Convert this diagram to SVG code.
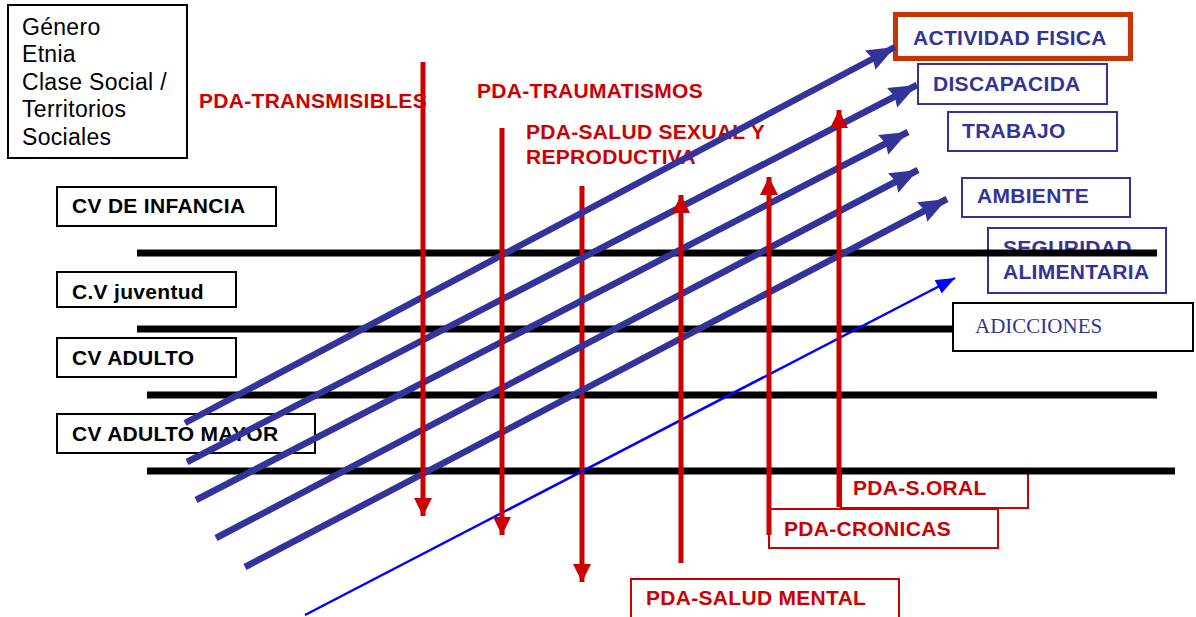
<svg xmlns="http://www.w3.org/2000/svg" width="1196" height="617" viewBox="0 0 1196 617">
<style>
.reg{font-family:"Liberation Sans",Arial,sans-serif;font-size:23px;letter-spacing:0.3px;fill:#000}
.lbl{font-family:"Liberation Sans",Arial,sans-serif;font-size:21px;letter-spacing:0.3px;font-weight:bold;fill:#000}
.red{font-family:"Liberation Sans",Arial,sans-serif;font-size:21px;letter-spacing:0.3px;font-weight:bold;fill:#CC0000}
.blu{font-family:"Liberation Sans",Arial,sans-serif;font-size:21px;letter-spacing:0.3px;font-weight:bold;fill:#333399}
.ser{font-family:"Liberation Serif","Times New Roman",serif;font-size:21px;fill:#333399}
.bx{fill:#fff;stroke:#000;stroke-width:2}
.bbx{fill:none;stroke:#333399;stroke-width:2}
.rbx{fill:none;stroke:#CC0000;stroke-width:2}
.hl{stroke:#000;stroke-width:7}
.bl{stroke:#333399;stroke-width:6.5;fill:none}
.tl{stroke:#0000FF;stroke-width:2.5;fill:none}
.rl{stroke:#CC0000;stroke-width:5;fill:none}
</style>
<defs>
<marker id="ab" markerUnits="userSpaceOnUse" markerWidth="32" markerHeight="26" refX="28" refY="11" orient="auto"><path d="M0,0 L28,11 L0,22 L3,11 z" fill="#333399"/></marker>
<marker id="at" markerUnits="userSpaceOnUse" markerWidth="22" markerHeight="18" refX="19" refY="7.5" orient="auto"><path d="M0,0 L19,7.5 L0,15 z" fill="#0000FF"/></marker>
<marker id="ar" markerUnits="userSpaceOnUse" markerWidth="22" markerHeight="22" refX="18" refY="9" orient="auto"><path d="M0,0 L18,9 L0,18 z" fill="#CC0000"/></marker>
</defs>

<g id="n-factores">
<rect class="bx" x="8" y="5" width="179" height="153"/>
<text class="reg" x="22" y="35">Género</text>
<text class="reg" x="22" y="62">Etnia</text>
<text class="reg" x="22" y="90">Clase Social /</text>
<text class="reg" x="22" y="117">Territorios</text>
<text class="reg" x="22" y="145">Sociales</text>
</g>
<g id="n-infancia"><rect class="bx" x="57" y="187" width="219" height="39"/><text class="lbl" x="72" y="213">CV DE INFANCIA</text></g>
<g id="n-juventud"><rect class="bx" x="57" y="272" width="179" height="35"/><text class="lbl" x="72" y="299">C.V juventud</text></g>
<g id="n-adulto"><rect class="bx" x="57" y="338" width="179" height="39"/><text class="lbl" x="72" y="365">CV ADULTO</text></g>
<g id="n-mayor"><rect class="bx" x="57" y="414" width="258" height="39"/><text class="lbl" x="72" y="441">CV ADULTO MAYOR</text></g>

<g id="n-transmisibles"><text class="red" x="199" y="108">PDA-TRANSMISIBLES</text></g>
<g id="n-traumatismos"><text class="red" x="477" y="98">PDA-TRAUMATISMOS</text></g>
<g id="n-sexual"><text class="red" x="526" y="139">PDA-SALUD SEXUAL Y</text><text class="red" x="526" y="164">REPRODUCTIVA</text></g>

<g id="n-actividad"><rect x="895.5" y="14.5" width="235" height="44" fill="none" stroke="#CC3300" stroke-width="5"/><text class="blu" x="913" y="45">ACTIVIDAD FISICA</text></g>
<g id="n-discapacida"><rect class="bbx" x="918" y="64" width="189" height="40"/><text class="blu" x="933" y="91">DISCAPACIDA</text></g>
<g id="n-trabajo"><rect class="bbx" x="948" y="112" width="169" height="39"/><text class="blu" x="962" y="138">TRABAJO</text></g>
<g id="n-ambiente"><rect class="bbx" x="962" y="178" width="168" height="39"/><text class="blu" x="977" y="203">AMBIENTE</text></g>
<g id="n-seguridad"><rect class="bbx" x="988" y="228" width="178" height="65"/><text class="blu" x="1003" y="255">SEGURIDAD</text><text class="blu" x="1003" y="279">ALIMENTARIA</text></g>

<g id="n-soral"><rect class="rbx" x="841" y="469" width="187" height="39"/><text class="red" x="853" y="495">PDA-S.ORAL</text></g>
<g id="n-cronicas"><rect class="rbx" x="769" y="509" width="229" height="39"/><text class="red" x="784" y="536">PDA-CRONICAS</text></g>
<g id="n-mental"><rect class="rbx" x="631" y="579" width="268" height="45"/><text class="red" x="646" y="605">PDA-SALUD MENTAL</text></g>

<g id="connectors">
<line class="hl" x1="137" y1="253" x2="1157" y2="253"/>
<line class="hl" x1="137" y1="329" x2="955" y2="329"/>
<line class="hl" x1="147" y1="395" x2="1157" y2="395"/>
<line class="hl" x1="147" y1="471" x2="1175" y2="471"/>

<line class="rl" x1="582" y1="186" x2="582" y2="582" marker-end="url(#ar)"/>

<line class="bl" x1="185" y1="423" x2="895" y2="47" marker-end="url(#ab)"/>
<line class="bl" x1="187" y1="462" x2="917" y2="85" marker-end="url(#ab)"/>
<line class="bl" x1="196" y1="500" x2="908" y2="132" marker-end="url(#ab)"/>
<line class="bl" x1="216" y1="538" x2="918" y2="170" marker-end="url(#ab)"/>
<line class="bl" x1="245" y1="567" x2="947" y2="199" marker-end="url(#ab)"/>
<line class="tl" x1="305" y1="615" x2="955" y2="278" marker-end="url(#at)"/>

<line class="rl" x1="423" y1="62" x2="423" y2="516" marker-end="url(#ar)"/>
<line class="rl" x1="502" y1="128" x2="502" y2="535" marker-end="url(#ar)"/>
<line class="rl" x1="681" y1="563" x2="681" y2="195" marker-end="url(#ar)"/>
<line class="rl" x1="769" y1="535" x2="769" y2="177" marker-end="url(#ar)"/>
<line class="rl" x1="839" y1="507" x2="839" y2="110" marker-end="url(#ar)"/>
</g>

<g id="n-adicciones"><rect class="bx" x="953" y="303" width="240" height="48"/><text class="ser" x="975" y="333">ADICCIONES</text></g>
</svg>
